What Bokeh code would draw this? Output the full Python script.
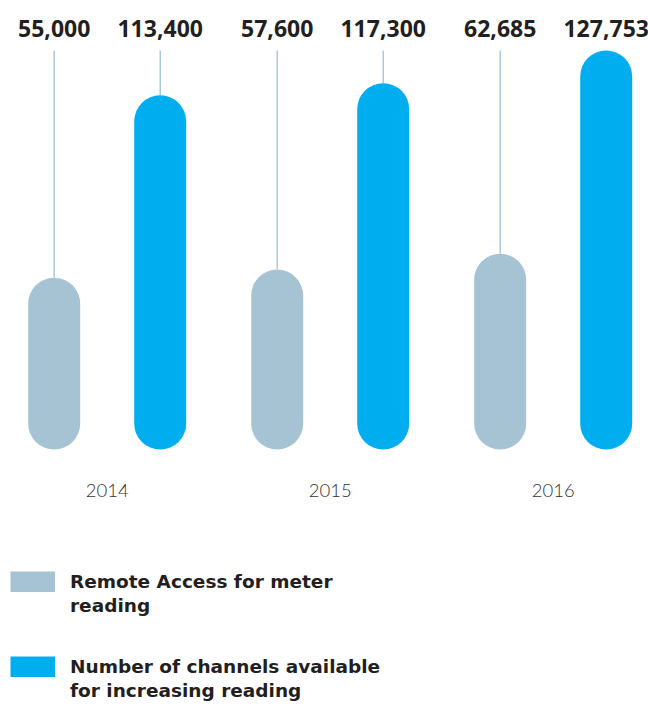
from bokeh.plotting import figure
from bokeh.models import Range1d, ColumnDataSource, Legend, LegendItem
from bokeh.core.properties import value
from bokeh.embed import file_html
from bokeh.resources import INLINE

# ---- data ----
years = ["2014", "2015", "2016"]
series_line1 = ["Remote Access for meter", "Number of channels available"]
series_line2 = ["reading", "for increasing reading"]
remote_access = [55000, 57600, 62685]
channels = [113400, 117300, 127753]

GRAY = "#a5c3d3"
BLUE = "#00aeef"
LEADER = "#a0c1d4"
TEXT = "#231f20"

W, H = 648, 706
Y_START, Y_END = -82287, 143763
X_START, X_END = -0.4785, 2.4274
BAR_OFFSET = 0.2377          # half distance between the two bars of a year
px_per_unit = H / (Y_END - Y_START)
BAR_PX = 52
r_units = (BAR_PX / 2) / px_per_unit

xs, tops, colors, labels = [], [], [], []
for i, yr in enumerate(years):
    for off, vals, col in ((-BAR_OFFSET, remote_access, GRAY),
                           (BAR_OFFSET, channels, BLUE)):
        xs.append(i + off)
        tops.append(vals[i])
        colors.append(col)
        labels.append(f"{vals[i]:,}")

vmax = max(tops)
src = ColumnDataSource(dict(
    x=xs, top=tops, color=colors, label=labels,
    y0=[r_units] * len(xs), y1=[t - r_units for t in tops],
    ymax=[vmax] * len(xs),
))

p = figure(width=W, height=H, x_range=Range1d(X_START, X_END),
           y_range=Range1d(Y_START, Y_END),
           output_backend="svg", toolbar_location=None, min_border=0,
           x_axis_location=None, y_axis_location=None,
           outline_line_color=None, background_fill_color="white")
p.xgrid.grid_line_color = None
p.ygrid.grid_line_color = None

# leader lines
p.segment(x0="x", y0="top", x1="x", y1="ymax", source=src,
          line_color=LEADER, line_width=1.3)

# pill bars
p.segment(x0="x", y0="y0", x1="x", y1="y1", source=src,
          line_color="color", line_width=BAR_PX, line_cap="round")

# value labels
p.text(x="x", y="ymax", text="label", source=src, text_align="center",
       text_baseline="alphabetic", y_offset=-22,
       text_font=value("Noto Sans"), text_font_style="bold",
       text_font_size="23px", text_color=TEXT)

# year labels
p.text(x=list(range(len(years))), y=[0] * len(years), text=years,
       text_align="center", text_baseline="alphabetic", y_offset=41,
       text_font=value("'Lato Light', Lato"), text_font_size="18.5px",
       text_color="#333333")

# legend swatches (legend-only renderers, no visible data)
NAN = float("nan")
sw_gray = p.line(x=[NAN], y=[NAN], line_color=GRAY, line_width=21)
sw_blue = p.line(x=[NAN], y=[NAN], line_color=BLUE, line_width=21)
sw_none = p.line(x=[NAN], y=[NAN], line_alpha=0)

common = dict(glyph_width=45, glyph_height=21, label_standoff=15,
              spacing=3, padding=0, margin=0, border_line_color=None,
              background_fill_alpha=0, label_text_font="DejaVu Sans",
              label_text_font_style="bold", label_text_font_size="18.5px",
              label_text_color=TEXT)

leg1 = Legend(items=[LegendItem(label=series_line1[0], renderers=[sw_gray]),
                     LegendItem(label=series_line2[0], renderers=[sw_none])],
              location=(10, 90), **common)
leg2 = Legend(items=[LegendItem(label=series_line1[1], renderers=[sw_blue]),
                     LegendItem(label=series_line2[1], renderers=[sw_none])],
              location=(10, 5), **common)
p.add_layout(leg1)
p.add_layout(leg2)

open("out.html", "w").write(file_html(p, INLINE))
